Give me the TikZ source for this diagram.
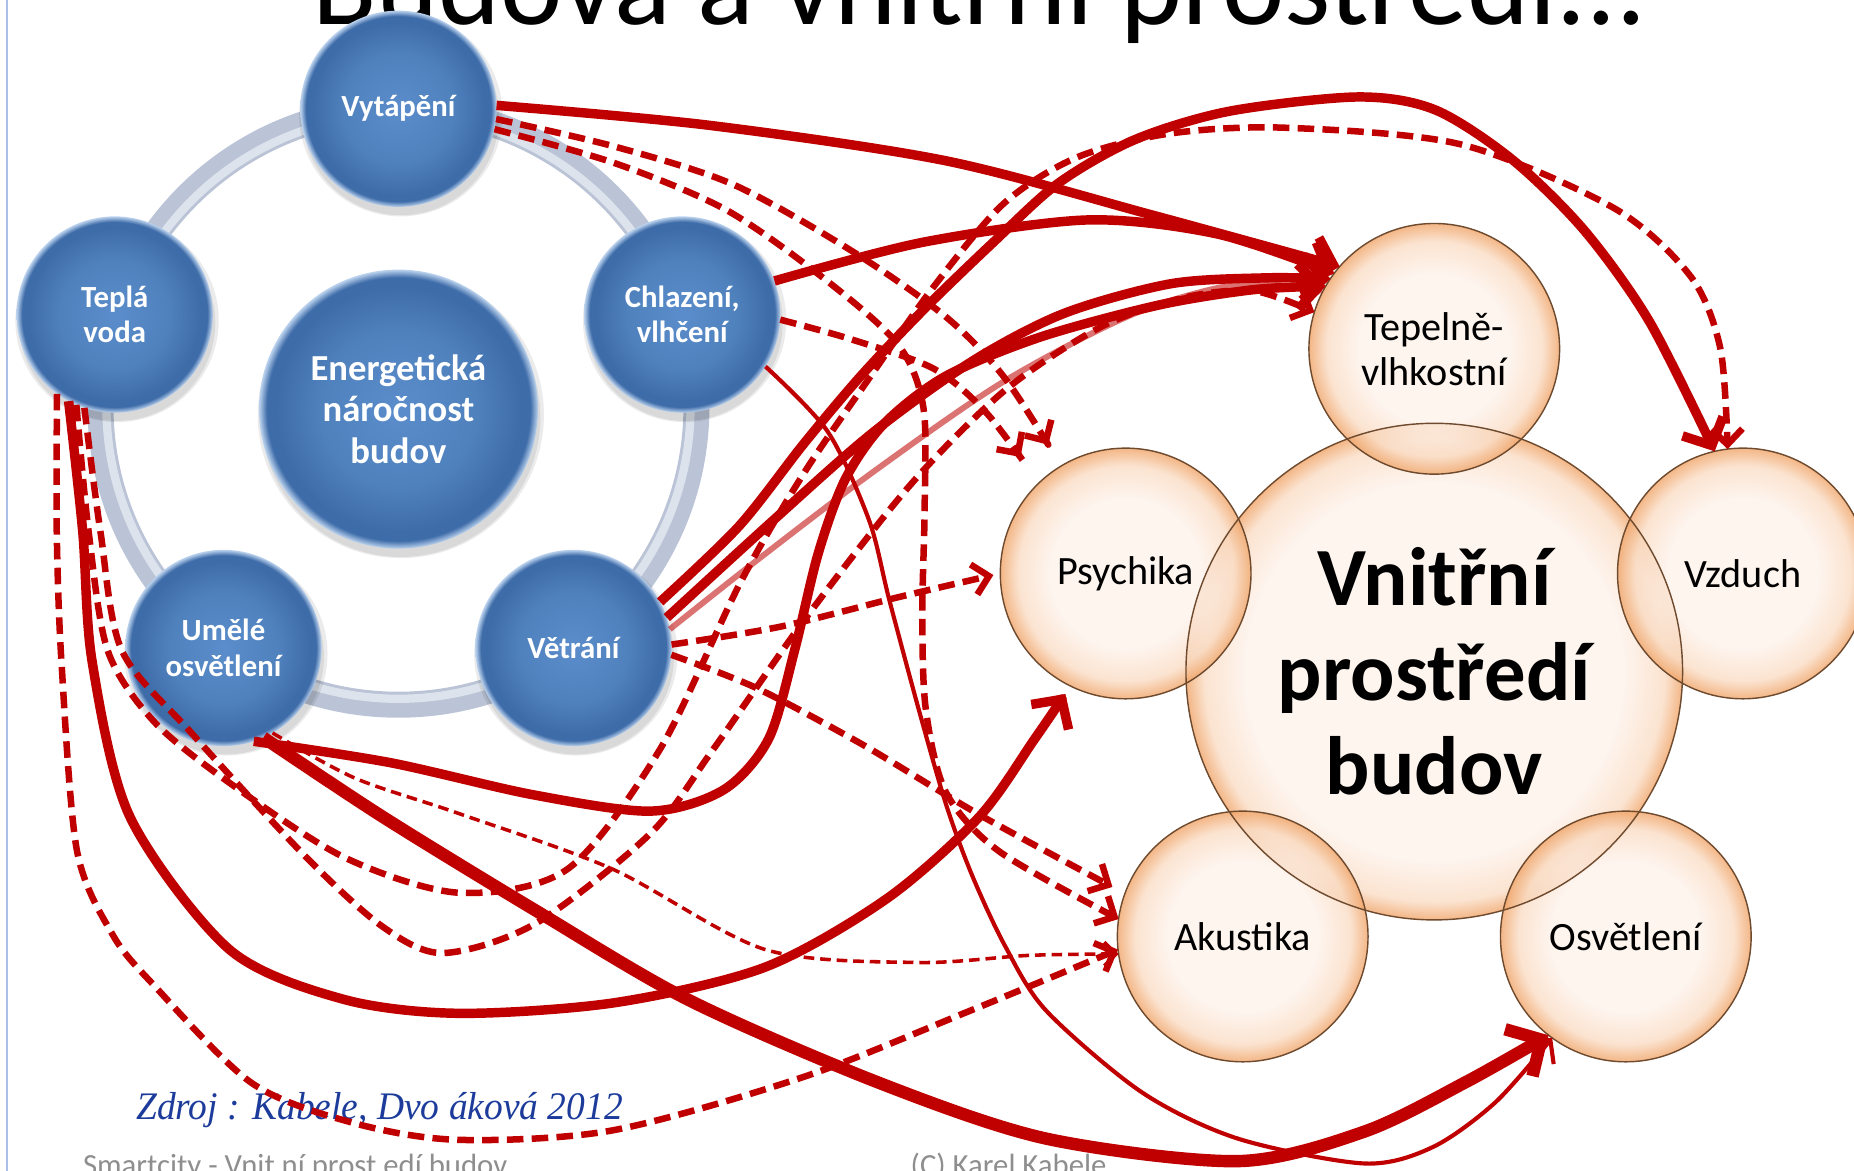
\documentclass[tikz,border=0pt]{standalone}
\usepackage{fontspec}
\setmainfont{Carlito}
\newfontfamily\srcfont{Liberation Serif}
\usetikzlibrary{arrows.meta,calc}

\definecolor{dred}{HTML}{C00000}
\definecolor{ringA}{HTML}{BAC4D6}
\definecolor{ringB}{HTML}{DDE3EC}
\definecolor{blA}{HTML}{5B8DCC}
\definecolor{blB}{HTML}{4F81BD}
\definecolor{blC}{HTML}{3E6CA9}
\definecolor{blD}{HTML}{BCD3EE}
\definecolor{orA}{HTML}{FDF2EA}
\definecolor{orB}{HTML}{FADCC4}
\definecolor{orC}{HTML}{F0A468}
\definecolor{orEdge}{HTML}{6E4A2E}
\definecolor{srcblue}{HTML}{1C3B9A}
\definecolor{footgray}{HTML}{8E8E8E}
\definecolor{rulec}{HTML}{A8C0E6}

% TikZ fits the middle 50bp of a shading to the path, so the rim sits at 25bp
\pgfdeclareradialshading{bluorb}{\pgfpoint{0bp}{0bp}}{color(0bp)=(blA); color(14bp)=(blB); color(22bp)=(blC); color(23.6bp)=(blC); color(25bp)=(blD); color(50bp)=(blD)}
\pgfdeclareradialshading{orangeorb}{\pgfpoint{0bp}{0bp}}{color(0bp)=(orA); color(15bp)=(orA); color(21.5bp)=(orB); color(25bp)=(orC); color(50bp)=(orC)}
\pgfdeclareradialshading{orangebig}{\pgfpoint{0bp}{0bp}}{color(0bp)=(orA); color(19bp)=(orA); color(23.2bp)=(orB); color(25bp)=(orC); color(50bp)=(orC)}

\begin{document}
\begin{tikzpicture}[x=1pt, y=-1pt, line join=round,
  bball/.style={circle, minimum size=166pt, inner sep=0pt, outer sep=0pt,
    shade, shading=bluorb, text=white, align=center,
    font=\bfseries\fontsize{26}{30}\selectfont},
  oball/.style={circle, minimum size=212pt, inner sep=0pt, outer sep=0pt,
    shade, shading=orangeorb, fill opacity=.8, text opacity=1, align=center,
    font=\fontsize{34}{38}\selectfont},
  obord/.style={draw=orEdge, line width=1.2pt},
  shadowdisc/.style={fill=black, opacity=.08},
  solidarrow/.style={draw=dred, line width=8pt, -{Straight Barb[length=18pt,width=38pt]}},
  bigarrow/.style={draw=dred, line width=10.5pt, -{Straight Barb[length=22pt,width=46pt]}},
  dasharrow/.style={draw=dred, line width=5.5pt, dash pattern=on 14pt off 7pt, -{Straight Barb[length=13pt,width=26pt]}},
  thinarrow/.style={draw=dred, line width=3.5pt, -{Straight Barb[length=14pt,width=30pt]}},
  thindash/.style={draw=dred, line width=3pt, dash pattern=on 9pt off 5pt, -{Straight Barb[length=10pt,width=20pt]}},
  pinkarrow/.style={draw=dred, draw opacity=.55, line width=5pt, -{Straight Barb[length=12pt,width=24pt]}}
]
\useasboundingbox (0,0) rectangle (1568,990);
\clip (0,0) rectangle (1568,990);

% page rule on the left
\draw[rulec, line width=1.2pt] (6,0) -- (6,990);

% slide title (runs off the top edge)
\node[anchor=base west, inner sep=0pt, font=\fontsize{100}{102}\selectfont] (title) at (264,21) {Budova a vnitřní prostředí...};

% ---------- energy ring ----------
\draw[ringA, line width=22pt] (337,344) circle[radius=252pt];
\draw[ringB, line width=7pt] (337,344) circle[radius=247pt];

\foreach \cx/\cy/\r in {337/92/83, 97/266/83, 577/266/83, 189/548/83, 485/548/83, 337/346/118} {
  \fill[shadowdisc] (\cx+2,\cy+5) circle[radius=\r pt+3pt];
  \fill[shadowdisc] (\cx+2,\cy+7) circle[radius=\r pt];
}

\node[bball] (vyt) at (337,92) {Vytápění};
\node[bball] (tv) at (97,266) {Teplá\\voda};
\node[bball] (chl) at (577,266) {Chlazení,\\vlhčení};
\node[bball] (um) at (189,548) {Umělé\\osvětlení};
\node[bball] (vet) at (485,548) {Větrání};
\node[bball, minimum size=236pt, font=\bfseries\fontsize{31}{35}\selectfont] (en) at (337,346) {Energetická\\náročnost\\budov};

% ---------- indoor environment ----------
\node[oball, shading=orangebig, minimum size=420pt, font=\bfseries\fontsize{70}{80}\selectfont] (vin) at (1213,568) {Vnitřní\\prostředí\\budov};
\node[oball] (tep) at (1213,295) {Tepelně-\\vlhkostní};
\node[oball] (psy) at (952,485) {Psychika};
\node[oball] (vz) at (1474,485) {Vzduch};
\node[oball] (ak) at (1051,792) {Akustika};
\node[oball] (osv) at (1375,792) {Osvětlení};
\draw[obord] (vin) circle[radius=210pt];
\foreach \n in {tep,psy,vz,ak,osv} \draw[obord] (\n) circle[radius=106pt];

% ---------- footer texts ----------
\node[anchor=base west, inner sep=0pt, text=srcblue, font=\srcfont\itshape\fontsize{33}{35}\selectfont] (src) at (115,947) {\scalebox{0.96}[1]{Zdroj : Kabele, Dvo áková 2012}};
\node[anchor=base west, inner sep=0pt, text=footgray, font=\fontsize{26}{28}\selectfont] (foot) at (70,994) {Smartcity - Vnit ní prost edí budov};
\node[anchor=base west, inner sep=0pt, text=footgray, font=\fontsize{26}{28}\selectfont] (copy) at (770,994) {(C) Karel Kabele};

% ---------- links ----------
% Vytápění
\draw[solidarrow] plot[smooth] coordinates {(vyt.2) (600,106) (800,136) (975,182) (tep.139)};
\draw[dasharrow, shorten >=21pt] plot[smooth] coordinates {(vyt.-6) (520,124) (620,156) (720,212) (800,268) (850,320) (psy.121)};
\draw[dasharrow] plot[smooth] coordinates {(vyt.-12) (520,138) (615,178) (700,238) (760,292) (781,345) (782,430) (780,520) (783,600) (800,670) (845,720) (ak.172)};

% Chlazení, vlhčení
\draw[solidarrow] plot[smooth] coordinates {(chl.20) (780,205) (920,186) (1030,198) (tep.143)};
\draw[dasharrow, shorten >=27pt] plot[smooth] coordinates {(chl.-3) (720,287) (790,312) (835,350) (psy.134)};
\draw[thinarrow] plot[smooth] coordinates {(chl.-32) (700,365) (735,440) (752,507) (777,600) (800,680) (822,740) (850,800) (885,855) (966,924) (1047,963) (1154,984) (1212,970) (1265,932) (osv.234)};

% Větrání
\draw[solidarrow] plot[smooth] coordinates {(vet.28) (625,445) (680,375) (728,318) (781,262) (840,205) (895,155) (960,118) (1040,94) (1149,82) (1214,93) (1279,135) (1340,195) (1395,272) (vz.103)};
\draw[solidarrow] plot[smooth] coordinates {(vet.18) (654,440) (738,366) (823,305) (900,265) (990,240) (1070,235) (tep.146)};
\draw[pinkarrow] plot[smooth] coordinates {(vet.11) (640,474) (740,398) (850,322) (960,265) (1050,240) (tep.153)};
\draw[dasharrow, shorten >=6pt] plot[smooth] coordinates {(vet.2) (660,530) (760,505) (psy.180)};
\draw[dasharrow, shorten >=12pt] plot[smooth] coordinates {(vet.-4) (640,582) (730,630) (830,690) (ak.160)};

% Umělé osvětlení
\draw[solidarrow] plot[smooth] coordinates {(um.288) (330,645) (450,672) (550,686) (612,668) (650,625) (672,550) (692,468) (715,405) (748,358) (800,318) (880,285) (980,258) (1060,245) (tep.150)};
\draw[bigarrow] plot[smooth] coordinates {(um.294) (324,691) (453,770) (583,846) (744,916) (885,963) (1047,982) (1154,957) (1240,915) (osv.232)};
\draw[thindash] plot[smooth] coordinates {(um.300) (300,658) (388,688) (518,735) (647,803) (776,814) (870,808) (ak.188)};

% Teplá voda
\draw[solidarrow, shorten >=8pt] plot[smooth] coordinates {(tv.242) (70,450) (78,560) (110,691) (194,803) (290,845) (388,857) (520,848) (647,818) (750,760) (828,691) (875,625) (psy.244)};
\draw[dasharrow] plot[smooth] coordinates {(tv.234) (48,450) (52,560) (65,719) (95,790) (129,832) (213,916) (300,950) (388,964) (518,956) (679,911) (820,855) (ak.186)};
\draw[dasharrow] plot[smooth] coordinates {(tv.247) (75,450) (91,550) (130,610) (194,662) (291,725) (388,755) (480,735) (558,634) (626,493) (680,400) (735,320) (790,242) (849,172) (911,133) (989,113) (1086,108) (1235,122) (1365,176) (1430,234) (1455,295) (vz.97)};
\draw[dasharrow] plot[smooth] coordinates {(tv.252) (85,450) (103,550) (162,620) (259,725) (324,784) (375,806) (453,781) (550,705) (603,634) (682,522) (770,410) (850,330) (930,277) (1000,252) (1060,246) (tep.163)};
\end{tikzpicture}
\end{document}
